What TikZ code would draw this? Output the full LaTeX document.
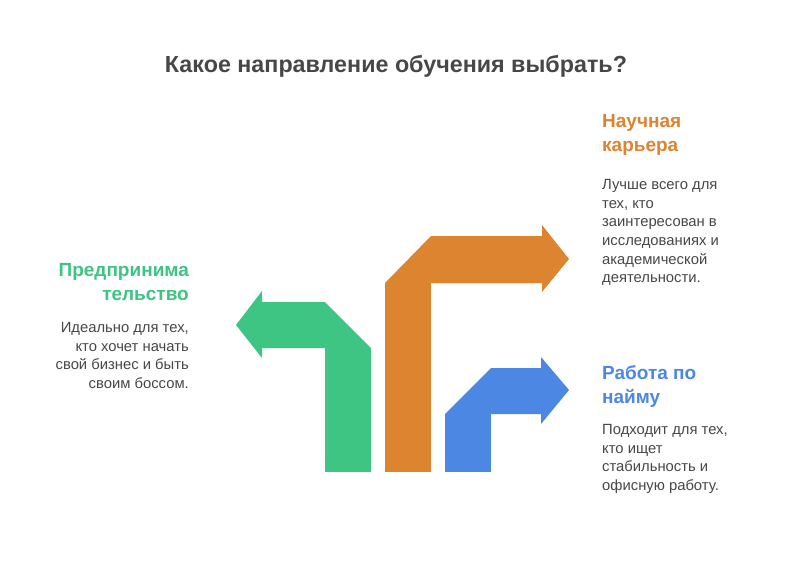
\documentclass[tikz,border=0pt]{standalone}
\usepackage{fontspec}
\setmainfont{Liberation Sans}
\begin{document}
\begin{tikzpicture}[x=1pt,y=-1pt,
  ttl/.style={font=\bfseries\fontsize{23.3}{26}\selectfont,text=black!72},
  lbl/.style={font=\bfseries\fontsize{19}{24}\selectfont,align=left,anchor=north west,inner sep=0},
  dsc/.style={font=\fontsize{14.8}{18.7}\selectfont,text=black!72,align=left,anchor=north west,inner sep=0}]
\definecolor{cg}{HTML}{3EC483}
\definecolor{co}{HTML}{DD8431}
\definecolor{cb}{HTML}{4C87E4}
\useasboundingbox (0,0) rectangle (792,582);
\fill[white] (0,0) rectangle (792,582);
\node[ttl] (title) at (396,66) {Какое направление обучения выбрать?};
% green
\fill[cg] (325,472) rectangle (371,348);
\fill[cg] (371,348) -- (325,302) -- (262,302) -- (262,291) -- (236,325) -- (262,358) -- (262,348) -- cycle;
% orange
\fill[co] (385,472) rectangle (431,283);
\fill[co] (385,283) -- (431,236) -- (542,236) -- (542,225) -- (569,259) -- (542,292) -- (542,283) -- cycle;
% blue
\fill[cb] (445,472) rectangle (491,414);
\fill[cb] (445,414) -- (491,368) -- (541,368) -- (541,357) -- (569,390) -- (541,424) -- (541,414) -- cycle;
% texts
\node[lbl,text=co] (l1) at (602,114) {Научная\\карьера};
\node[dsc] (d1) at (602,179) {Лучше всего для\\тех, кто\\заинтересован в\\исследованиях и\\академической\\деятельности.};
\node[lbl,text=cg,align=right,anchor=north east] (l2) at (189,263) {Предпринима\\тельство};
\node[dsc,align=right,anchor=north east] (d2) at (189,322) {Идеально для тех,\\кто хочет начать\\свой бизнес и быть\\своим боссом.};
\node[lbl,text=cb] (l3) at (602,365) {Работа по\\найму};
\node[dsc] (d3) at (602,424) {Подходит для тех,\\кто ищет\\стабильность и\\офисную работу.};
\end{tikzpicture}
\end{document}
